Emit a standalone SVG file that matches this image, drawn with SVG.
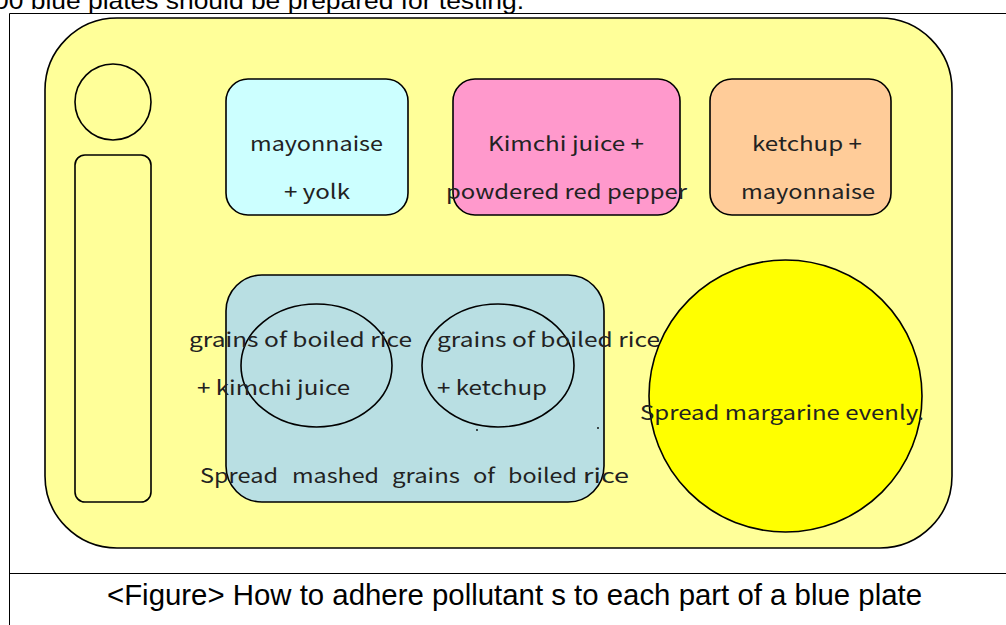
<svg xmlns="http://www.w3.org/2000/svg" width="1006" height="625" viewBox="0 0 1006 625">
<style>
.sh{stroke:#000;stroke-width:1.6}
.t{font-family:"Noto Sans CJK KR","DejaVu Sans",sans-serif;font-size:20px;fill:#222}
.a{font-family:"Liberation Sans",Arial,sans-serif;fill:#000}
</style>
<rect width="1006" height="625" fill="#fff"/>
<text class="a" x="-6" y="9" font-size="24" textLength="530" lengthAdjust="spacingAndGlyphs">00 blue plates should be prepared for testing.</text>
<g id="frame" fill="none" stroke="#000" stroke-width="1">
<path d="M9.5 625V13.5H1006"/>
<path d="M9.5 573.5H1006"/>
</g>
<g id="plate">
<rect class="sh" x="45" y="18" width="907" height="530" rx="72" fill="#FFFF99"/>
</g>
<g id="cup"><circle class="sh" cx="113" cy="102" r="38" fill="#FFFF99"/></g>
<g id="utensil"><rect class="sh" x="75" y="155" width="76" height="347" rx="10" fill="#FFFF99"/></g>
<g id="box1">
<rect class="sh" x="226" y="79" width="182" height="136" rx="22" fill="#CCFFFF"/>
<text class="t" x="250" y="151" textLength="133" lengthAdjust="spacingAndGlyphs">mayonnaise</text>
<text class="t" x="284" y="199" textLength="66" lengthAdjust="spacingAndGlyphs">+ yolk</text>
</g>
<g id="box2">
<rect class="sh" x="453" y="79" width="227" height="136" rx="22" fill="#FF99CC"/>
<text class="t" x="488" y="151" textLength="156" lengthAdjust="spacingAndGlyphs">Kimchi juice +</text>
<text class="t" x="446" y="199" textLength="241" lengthAdjust="spacingAndGlyphs">powdered red pepper</text>
</g>
<g id="box3">
<rect class="sh" x="710" y="79" width="181" height="136" rx="22" fill="#FFCC99"/>
<text class="t" x="752" y="151" textLength="110" lengthAdjust="spacingAndGlyphs">ketchup +</text>
<text class="t" x="741" y="199" textLength="134" lengthAdjust="spacingAndGlyphs">mayonnaise</text>
</g>
<g id="tray">
<rect class="sh" x="226" y="275" width="378" height="227" rx="36" fill="#B9DFE3"/>
<ellipse class="sh" cx="316.5" cy="365.5" rx="75.5" ry="61.5" fill="none"/>
<ellipse class="sh" cx="498" cy="365.5" rx="76" ry="61.5" fill="none"/>
<circle cx="477" cy="430" r="0.9" fill="#000"/>
<circle cx="598" cy="428" r="0.9" fill="#000"/>
<text class="t" x="189" y="347" textLength="223" lengthAdjust="spacingAndGlyphs">grains of boiled rice</text>
<text class="t" x="197" y="395" textLength="153" lengthAdjust="spacingAndGlyphs">+ kimchi juice</text>
<text class="t" x="437" y="347" textLength="223" lengthAdjust="spacingAndGlyphs">grains of boiled rice</text>
<text class="t" x="437" y="395" textLength="110" lengthAdjust="spacingAndGlyphs">+ ketchup</text>
<text class="t" y="483"><tspan x="200" textLength="78" lengthAdjust="spacingAndGlyphs">Spread</tspan> <tspan x="292" textLength="87" lengthAdjust="spacingAndGlyphs">mashed</tspan> <tspan x="392" textLength="68" lengthAdjust="spacingAndGlyphs">grains</tspan> <tspan x="473" textLength="22" lengthAdjust="spacingAndGlyphs">of</tspan> <tspan x="508" textLength="69" lengthAdjust="spacingAndGlyphs">boiled</tspan> <tspan x="583" textLength="46" lengthAdjust="spacingAndGlyphs">rice</tspan></text>
</g>
<g id="plate-round">
<ellipse class="sh" cx="785.5" cy="396" rx="136.5" ry="136" fill="#FFFF00"/>
<text class="t" x="640" y="420" textLength="284" lengthAdjust="spacingAndGlyphs">Spread margarine evenly.</text>
</g>
<text class="a" x="107" y="605" font-size="29" textLength="815" lengthAdjust="spacingAndGlyphs">&lt;Figure&gt; How to adhere pollutant s to each part of a blue plate</text>
</svg>
